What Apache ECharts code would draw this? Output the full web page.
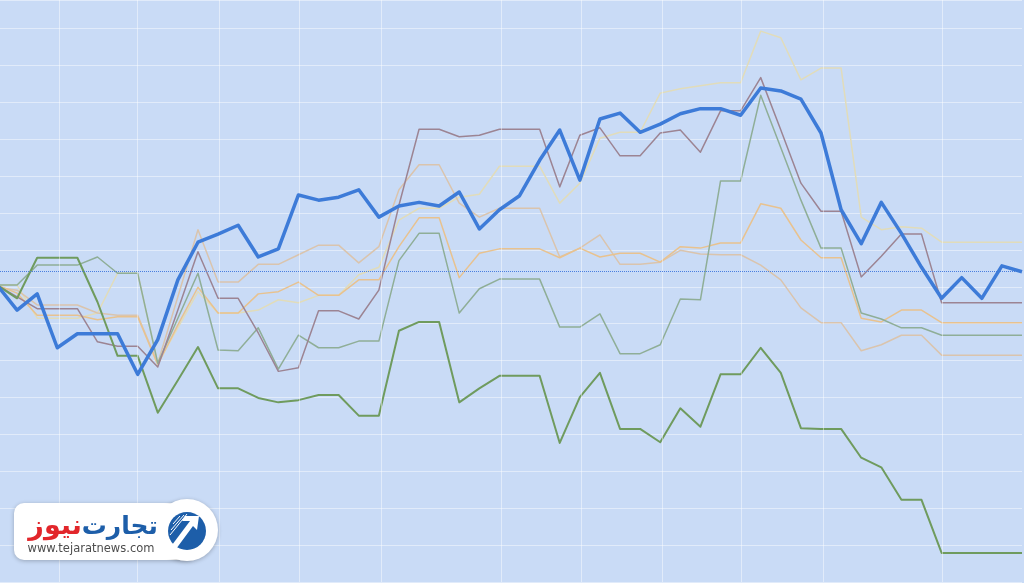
<!DOCTYPE html>
<html><head><meta charset="utf-8">
<script src="https://cdn.jsdelivr.net/npm/echarts@6/dist/echarts.min.js"></script>
<style>html,body{margin:0;padding:0;background:#c9dbf6;overflow:hidden}#c{width:1024px;height:583px;}</style>
</head><body><div id="c"></div>
<script>
// weekly points (index 0..51), values = % change vs. baseline (0)
const blueSeries = [-1.9,-5.3,-3.1,-10.4,-8.5,-8.5,-8.5,-14.0,-9.3,-1.2,3.9,5.0,6.2,1.9,3.0,10.3,9.6,10.0,11.0,7.3,8.8,9.3,8.8,10.7,5.7,8.3,10.2,15.0,19.1,12.3,20.6,21.4,18.8,19.9,21.3,22.0,22.0,21.1,24.8,24.4,23.3,18.7,8.3,3.7,9.3,5.1,0.5,-3.7,-0.9,-3.7,0.7,-0.1];
const darkGreenSeries = [-1.9,-3.7,1.8,1.8,1.8,-4.2,-11.5,-11.5,-19.2,-14.8,-10.3,-15.9,-15.9,-17.2,-17.8,-17.5,-16.8,-16.8,-19.6,-19.6,-8.1,-6.9,-6.9,-17.8,-15.9,-14.2,-14.2,-14.2,-23.3,-17.1,-13.8,-21.4,-21.4,-23.2,-18.6,-21.1,-14.0,-14.0,-10.4,-13.8,-21.3,-21.4,-21.4,-25.3,-26.6,-31.0,-31.0,-38.2,-38.2,-38.2,-38.2,-38.2];
const grayGreenSeries = [-1.9,-1.9,0.8,0.8,0.8,1.9,-0.3,-0.3,-12.5,-6.4,-0.3,-10.7,-10.8,-7.7,-13.3,-8.7,-10.4,-10.4,-9.5,-9.5,1.4,5.1,5.1,-5.7,-2.4,-1.1,-1.1,-1.1,-7.6,-7.6,-5.8,-11.2,-11.2,-10.0,-3.8,-3.9,12.2,12.2,23.8,16.7,9.6,3.1,3.1,-5.7,-6.5,-7.7,-7.7,-8.7,-8.7,-8.7,-8.7,-8.7];
const mauveSeries = [-1.9,-3.5,-5.1,-5.1,-5.1,-9.6,-10.2,-10.2,-13.0,-5.3,2.6,-3.7,-3.7,-8.4,-13.6,-13.1,-5.4,-5.4,-6.5,-2.6,8.9,19.2,19.2,18.2,18.4,19.2,19.2,19.2,11.4,18.4,19.4,15.6,15.6,18.7,19.1,16.1,21.7,21.7,26.2,19.1,11.9,8.1,8.1,-0.8,2.0,5.0,5.0,-4.3,-4.3,-4.3,-4.3,-4.3];
const tanSeries = [-2.2,-2.6,-4.6,-4.6,-4.6,-5.7,-6.0,-6.0,-12.5,-3.5,5.6,-1.5,-1.5,0.9,0.9,2.2,3.5,3.5,1.1,3.3,11.0,14.4,14.4,9.2,7.3,8.5,8.5,8.5,1.9,3.1,4.9,0.9,0.9,1.2,2.8,2.3,2.2,2.2,0.8,-1.2,-5.0,-7.0,-7.0,-10.8,-10.0,-8.7,-8.7,-11.4,-11.4,-11.4,-11.4,-11.4];
const orangeSeries = [-1.9,-3.0,-6.0,-6.0,-6.0,-6.6,-6.2,-6.2,-12.7,-7.3,-2.2,-5.7,-5.7,-3.1,-2.8,-1.5,-3.3,-3.3,-1.2,-1.2,3.3,7.2,7.2,-0.9,2.4,3.0,3.0,3.0,1.8,3.1,1.9,2.4,2.4,1.2,3.3,3.1,3.8,3.8,9.1,8.5,4.2,1.8,1.8,-6.4,-6.9,-5.3,-5.3,-7.0,-7.0,-7.0,-7.0,-7.0];
const beigeSeries = [-1.9,-1.9,-6.4,-6.4,-6.4,-5.7,-0.3,-0.3,-12.5,-7.7,-2.8,-5.7,-5.7,-5.3,-3.9,-4.3,-3.3,-3.3,-0.5,0.5,6.9,8.5,8.5,10.0,10.4,14.2,14.2,14.2,9.2,11.9,18.0,18.8,18.8,24.1,24.7,25.1,25.5,25.5,32.5,31.6,25.9,27.5,27.5,7.3,5.6,6.0,5.8,3.9,3.9,3.9,3.9,3.9];
// positions (in week index units) of the vertical gridlines
const gridWeeks = [3.1,7.0,11.05,15.05,19.1,25.1,29.05,33.1,37.05,41.1,47.05];

function pairs(arr){ return arr.map((v,i)=>[i,v]); }
function thin(name,data,color,width,z){
  return {name,type:'line',data:pairs(data),xAxisIndex:0,yAxisIndex:0,symbol:'none',smooth:false,clip:true,
    lineStyle:{color,width,join:'round'},z:z||3,silent:true};
}
const chart = echarts.init(document.getElementById('c'),null,{renderer:'canvas'});
chart.setOption({
  animation:false,
  backgroundColor:'#c9dbf6',
  grid:{left:0,right:2,top:0,bottom:1,containLabel:false},
  xAxis:{type:'value',min:0.15,max:51,show:true,axisLine:{show:false},axisTick:{show:false},axisLabel:{show:false},splitLine:{show:false}},
  yAxis:[
    {type:'value',min:-42.14,max:36.72,axisLine:{show:false},axisTick:{show:false},axisLabel:{show:false},splitLine:{show:false}},
    {type:'value',min:0,max:157.7,interval:10,position:'left',axisLine:{show:false},axisTick:{show:false},axisLabel:{show:false},
     splitLine:{show:true,lineStyle:{color:'rgba(255,255,255,0.45)',width:1}}}
  ],
  series:[
    {type:'line',data:[],xAxisIndex:0,yAxisIndex:0,silent:true,z:1,
      markLine:{silent:true,symbol:'none',label:{show:false},animation:false,
        lineStyle:{color:'rgba(255,255,255,0.45)',width:1,type:'solid'},
        data:gridWeeks.map(w=>({xAxis:w}))}},
    {type:'line',data:[],xAxisIndex:0,yAxisIndex:0,silent:true,z:2,
      markLine:{silent:true,symbol:'none',label:{show:false},animation:false,
        lineStyle:{color:'#4a7fe0',width:1,type:'dotted'},
        data:[{yAxis:0}]}},
    thin('beige',beigeSeries,'#e1dcba',1.5),
    thin('tan',tanSeries,'#dac4ad',1.5),
    thin('orange',orangeSeries,'#e8c28f',1.5),
    thin('grayGreen',grayGreenSeries,'#8fae97',1.5),
    thin('mauve',mauveSeries,'#9c8493',1.5),
    thin('darkGreen',darkGreenSeries,'#6f9b5e',2,4),
    thin('blue',blueSeries,'#3d7bd8',3.5,5)
  ],
  graphic:[
    {type:'rect',shape:{x:14,y:503,width:182,height:57,r:10},style:{fill:'#ffffff',shadowBlur:4,shadowColor:'rgba(0,0,0,0.25)',shadowOffsetY:1},z:100},
    {type:'circle',shape:{cx:187,cy:530,r:31},style:{fill:'#ffffff',shadowBlur:4,shadowColor:'rgba(0,0,0,0.25)',shadowOffsetY:1},z:100},
    {type:'rect',shape:{x:150,y:504,width:40,height:55},style:{fill:'#ffffff'},z:101},
    {type:'circle',shape:{cx:187,cy:531,r:19},style:{fill:'#1d5ea9'},z:102},
    {type:'polygon',shape:{points:[[172,545],[190,521],[182,521],[185,516],[199,516],[197,530],[193,526],[176,549]]},style:{fill:'#ffffff'},z:103},
    {type:'line',shape:{x1:171,y1:530,x2:184,y2:515},style:{stroke:'#ffffff',lineWidth:1},z:103},
    {type:'line',shape:{x1:170,y1:535,x2:187,y2:514},style:{stroke:'#ffffff',lineWidth:1},z:103},
    {type:'line',shape:{x1:173,y1:524,x2:180,y2:516},style:{stroke:'#ffffff',lineWidth:1},z:103},
    {type:'text',style:{text:'تجارت',x:158,y:527,align:'right',verticalAlign:'middle',font:'bold 25px "DejaVu Sans"',fill:'#1d5ea9'},z:104},
    {type:'text',style:{text:'نیوز',x:82,y:527,align:'right',verticalAlign:'middle',font:'bold 27px "DejaVu Sans"',fill:'#e2262b'},z:104},
    {type:'text',style:{text:'www.tejaratnews.com',x:91,y:549,align:'center',verticalAlign:'middle',font:'11.5px "DejaVu Sans"',fill:'#4d4d4d'},z:104}
  ]
});
</script></body></html>
